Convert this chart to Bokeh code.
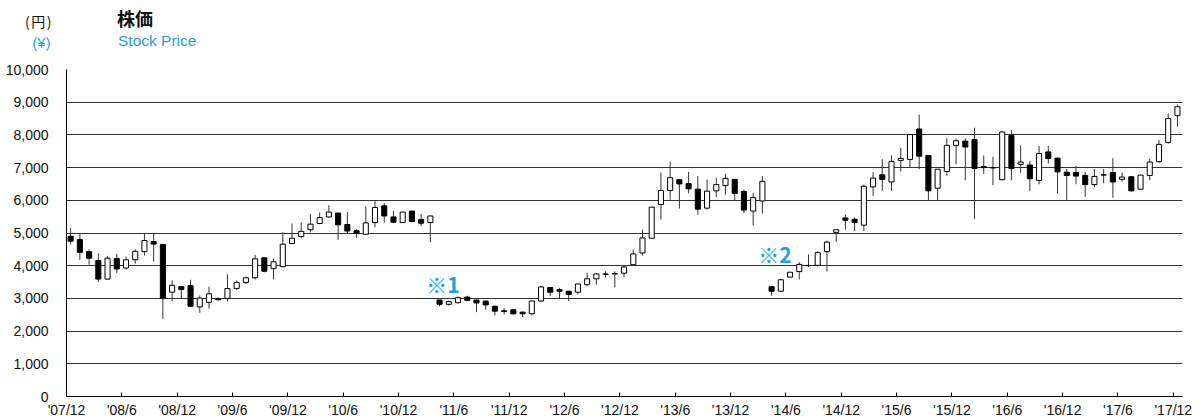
from bokeh.plotting import figure
from bokeh.layouts import column
from bokeh.models import Range1d, FixedTicker, NumeralTickFormatter, Label, ColumnDataSource, Div
from bokeh.embed import file_html
from bokeh.resources import INLINE

# Monthly candles, Dec 2007 .. Dec 2017 (index 0 = '07/12)
opens = [4900, 4800, 4430, 4160, 3590, 4220, 3930, 4180, 4430, 4740,
         4650, 3190, 3360, 3390, 2740, 2880, 2980, 3000, 3300, 3490,
         3630, 4240, 3910, 3970, 4680, 4890, 5100, 5290, 5490, 5610,
         5260, 5070, 4960, 5320, 5830, 5490, 5320, 5670, 5410, 5320,
         2950, 2820, 2870, 3040, 2950, 2920, 2760, 2620, 2650, 2580,
         2530, 2920, 3330, 3270, 3220, 3190, 3420, 3600, 3730, 3760,
         3770, 4030, 4390, 4840, 5870, 6300, 6630, 6510, 6340, 5760,
         6290, 6450, 6640, 6270, 5670, 5980, 3360, 3220, 3650, 3820,
         4010, 4010, 4430, 5020, 5460, 5420, 5240, 6410, 6780, 6560,
         7220, 7250, 8180, 7370, 6370, 6880, 7680, 7810, 7860, 7030,
         6990, 6630, 7980, 7100, 7080, 6610, 7480, 7290, 6860, 6850,
         6760, 6480, 6780, 6850, 6640, 6720, 6340, 6760, 7180, 7770,
         8590]
highs = [5150, 5000, 4500, 4380, 4300, 4360, 4280, 4500, 4990, 4990,
         4660, 3550, 3370, 3570, 3090, 3360, 3030, 3740, 3550, 3670,
         4330, 4260, 4220, 5020, 5290, 5320, 5580, 5630, 5850, 5620,
         5640, 5110, 5810, 6010, 5920, 5680, 5660, 5680, 5580, 5530,
         2960, 2940, 3060, 3080, 2960, 2930, 2770, 2700, 2660, 2590,
         2940, 3380, 3350, 3320, 3230, 3460, 3780, 3780, 3830, 3830,
         4000, 4490, 5100, 5800, 6850, 7180, 6650, 6870, 6740, 6630,
         6690, 6810, 6650, 6330, 6230, 6740, 3370, 3600, 3810, 4110,
         4340, 4440, 4770, 5110, 5570, 5470, 6480, 6860, 7260, 7370,
         7600, 8020, 8620, 7380, 6950, 7910, 7890, 7890, 8220, 7370,
         7330, 8110, 8150, 7680, 7200, 7660, 7660, 7300, 6960, 7050,
         6860, 6960, 6960, 7290, 6850, 6740, 6780, 7270, 7840, 8650,
         8930]
lows = [4650, 4180, 4030, 3500, 3580, 3780, 3880, 4060, 4310, 4130,
        2380, 2910, 2990, 2750, 2560, 2690, 2940, 2900, 3260, 3440,
        3580, 3800, 3580, 3950, 4660, 4850, 5020, 5270, 5470, 4790,
        5000, 4850, 4950, 5180, 5310, 5300, 5310, 5330, 5210, 4720,
        2760, 2780, 2840, 2920, 2580, 2650, 2480, 2510, 2500, 2430,
        2480, 2900, 3070, 2990, 2920, 3120, 3370, 3420, 3640, 3340,
        3650, 4010, 4310, 4820, 5410, 6020, 5750, 6210, 5560, 5720,
        6100, 6170, 5980, 5610, 5230, 5590, 3080, 3190, 3640, 3580,
        3960, 3980, 3820, 4730, 5100, 5060, 5060, 6130, 6290, 6290,
        6880, 7000, 6950, 6010, 6010, 6750, 7100, 6610, 5420, 6810,
        6460, 6610, 6610, 6840, 6280, 6490, 7120, 6200, 6000, 6490,
        6100, 6400, 6520, 6080, 6570, 6260, 6340, 6610, 7150, 7730,
        8250]
closes = [4750, 4410, 4230, 3590, 4230, 3900, 4180, 4440, 4770, 4660,
          3010, 3400, 3270, 2760, 3010, 3140, 2960, 3300, 3490, 3630,
          4210, 3830, 4120, 4660, 4840, 5050, 5270, 5470, 5640, 5250,
          5060, 4990, 5310, 5780, 5520, 5330, 5640, 5350, 5300, 5520,
          2820, 2900, 3020, 2940, 2860, 2800, 2610, 2600, 2530, 2530,
          2920, 3350, 3190, 3220, 3120, 3440, 3600, 3750, 3750, 3750,
          3960, 4360, 4850, 5790, 6300, 6690, 6500, 6350, 5730, 6280,
          6480, 6670, 6210, 5700, 6080, 6580, 3220, 3570, 3800, 4040,
          4000, 4400, 4720, 5100, 5390, 5320, 6430, 6680, 6640, 7190,
          7280, 8010, 7350, 6290, 6950, 7680, 7820, 7630, 6970, 7000,
          7000, 8090, 6970, 7170, 6660, 7430, 7280, 6870, 6760, 6740,
          6480, 6730, 6770, 6560, 6710, 6290, 6770, 7170, 7710, 8500,
          8860]

tick_labels = ["'07/12", "'08/6", "'08/12", "'09/6", "'09/12", "'10/6", "'10/12",
               "'11/6", "'11/12", "'12/6", "'12/12", "'13/6", "'13/12", "'14/6",
               "'14/12", "'15/6", "'15/12", "'16/6", "'16/12", "'17/6", "'17/12"]
y_ticks = [0, 1000, 2000, 3000, 4000, 5000, 6000, 7000, 8000, 9000, 10000]
notes = ["※1", "※2"]
note_months = [39, 75]   # month index where each note begins
note_prices = [3446, 4352]

BLUE = "#1BA1E2"
W = 1202
HEAD_H = 56

# ---------------- header strip (HTML text) ----------------
def span(txt, css):
    return ('<span style="position:absolute;white-space:nowrap;margin:0;padding:0;%s">%s</span>'
            % (css, txt))

head_html = (
    '<div style="position:relative;width:%dpx;height:%dpx;margin:0;padding:0;overflow:visible;">' % (W, HEAD_H)
    + span("(円)", "right:%dpx;top:13px;font-family:'Noto Sans CJK JP';font-size:14px;"
                   "letter-spacing:1.5px;line-height:17px;color:#111111;" % (W - 53))
    + span("(¥)", "right:%dpx;top:35px;font-family:'Liberation Sans';font-size:14px;"
                  "letter-spacing:0.5px;line-height:17px;color:%s;" % (W - 51, BLUE))
    + span("株価", "left:117px;top:8px;font-family:'Noto Sans CJK JP';font-weight:bold;"
                   "font-size:18px;line-height:21px;color:#111111;")
    + span("Stock Price", "left:118px;top:32px;font-family:'Liberation Sans';font-size:15.5px;"
                          "line-height:18px;color:%s;" % BLUE)
    + '</div>'
)
h = Div(text=head_html, width=W, height=HEAD_H, styles={"margin": "0", "padding": "0"})

# ---------------- main candlestick chart ----------------
n = len(opens)
xs = [i + 0.45 for i in range(n)]
tops = [max(o, c) for o, c in zip(opens, closes)]
bots = [min(o, c) for o, c in zip(opens, closes)]
fills = ["#000000" if c < o else "#ffffff" for o, c in zip(opens, closes)]
src = ColumnDataSource(dict(x=xs, high=highs, low=lows, top=tops, bottom=bots, fill=fills))

p = figure(width=W, height=420 - HEAD_H, output_backend="svg", toolbar_location=None,
           x_range=Range1d(0, 121), y_range=Range1d(0, 10000),
           min_border_left=66, min_border_right=20, min_border_top=69 - HEAD_H, min_border_bottom=24)
p.outline_line_color = None

p.segment(x0="x", y0="high", x1="x", y1="low", source=src, line_color="#333333", line_width=1)
p.vbar(x="x", width=0.55, top="top", bottom="bottom", source=src,
       fill_color="fill", line_color="#000000", line_width=1)

p.xgrid.visible = False
p.ygrid.ticker = FixedTicker(ticks=y_ticks)
p.ygrid.grid_line_color = "#333333"
p.ygrid.grid_line_width = 1

p.yaxis.ticker = FixedTicker(ticks=y_ticks)
p.yaxis.formatter = NumeralTickFormatter(format="0,0")
p.yaxis.axis_line_color = "#000000"
p.yaxis.major_tick_line_color = None
p.yaxis.minor_tick_line_color = None
p.yaxis.major_label_standoff = 12
p.yaxis.major_label_text_font = "Liberation Sans"
p.yaxis.major_label_text_font_size = "14px"
p.yaxis.major_label_text_color = "#111111"

xt = [6 * i for i in range(len(tick_labels))]
p.xaxis.ticker = FixedTicker(ticks=xt)
p.xaxis.major_label_overrides = {t: lab for t, lab in zip(xt, tick_labels)}
p.xaxis.axis_line_color = "#000000"
p.xaxis.major_tick_in = 4
p.xaxis.major_tick_out = 0
p.xaxis.major_tick_line_color = "#000000"
p.xaxis.minor_tick_line_color = None
p.xaxis.major_label_standoff = 5
p.xaxis.major_label_text_font = "Liberation Sans Narrow, Liberation Sans"
p.xaxis.major_label_text_font_size = "14px"
p.xaxis.major_label_text_color = "#111111"

for t, m, pr in zip(notes, note_months, note_prices):
    p.add_layout(Label(x=m, y=pr, text=t, text_align="left", text_baseline="middle",
                       text_font="Noto Sans CJK JP", text_font_style="bold", text_font_size="21px",
                       text_color=BLUE))

layout = column(h, p, spacing=0)
open("out.html", "w").write(file_html(layout, INLINE))
